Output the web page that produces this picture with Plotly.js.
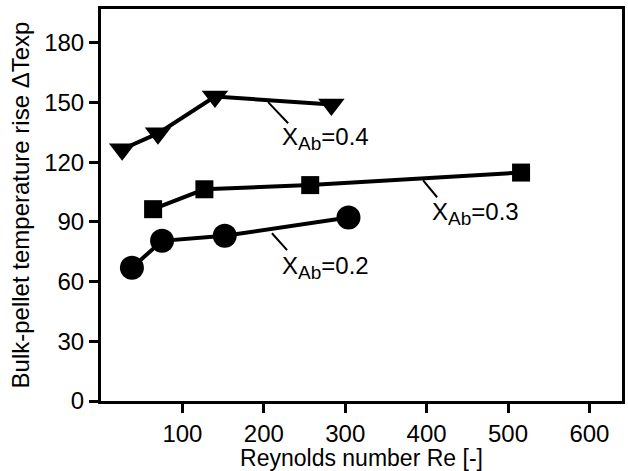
<!DOCTYPE html>
<html>
<head>
<meta charset="utf-8">
<script src="https://cdn.plot.ly/plotly-3.0.1.min.js"></script>
<style>html,body{margin:0;padding:0;background:#fff;}#chart{width:628px;height:471px;}</style>
</head>
<body>
<div id="chart"></div>
<script>
// Data
const re02 = [38, 75, 152, 304];
const dt02 = [67, 80.5, 83, 92.2];
const re03 = [64, 127, 257, 516];
const dt03 = [96.4, 106.4, 108.5, 114.8];
const re04 = [26, 70, 140, 283];
const dt04 = [126.5, 134.5, 153, 149];

const xTicks = [100, 200, 300, 400, 500, 600];
const yTicks = [0, 30, 60, 90, 120, 150, 180];

const labelText = [
  'X<sub><span style="font-size:19px">Ab</span></sub>=0.2',
  'X<sub><span style="font-size:19px">Ab</span></sub>=0.3',
  'X<sub><span style="font-size:19px">Ab</span></sub>=0.4'
];
const labelX = [220, 404, 220];
const labelY = [67, 94, 132];
// leader lines: [x0, y0, x1, y1]
const leaders = [
  [210, 84.3, 228.6, 75.8],
  [395.7, 110.9, 412.9, 102.4],
  [205.3, 150.2, 229.9, 139.6]
];

const FONT = 'Liberation Sans, Arial, sans-serif';

const traces = [
  {x: re02, y: dt02, mode: 'lines+markers', line: {color: '#000', width: 4},
   marker: {symbol: 'circle', size: 24, color: '#000'}},
  {x: re03, y: dt03, mode: 'lines+markers', line: {color: '#000', width: 4},
   marker: {symbol: 'square', size: 18, color: '#000'}},
  {x: re04, y: dt04, mode: 'lines+markers', line: {color: '#000', width: 4},
   marker: {symbol: 'triangle-down', size: 23, color: '#000'}}
];

const annotations = labelText.map((t, i) => ({
  x: labelX[i], y: labelY[i], xref: 'x', yref: 'y', text: t, showarrow: false,
  xanchor: 'left', yanchor: 'middle', font: {family: FONT, size: 24, color: '#000'}
}));

const shapes = leaders.map(l => ({
  type: 'line', xref: 'x', yref: 'y', x0: l[0], y0: l[1], x1: l[2], y1: l[3],
  line: {color: '#000', width: 2}
}));

const layout = {
  width: 628, height: 471,
  margin: {l: 101, r: 6, t: 9, b: 70},
  paper_bgcolor: '#fff', plot_bgcolor: '#fff',
  showlegend: false,
  font: {family: FONT, size: 24, color: '#000'},
  xaxis: {
    range: [0, 640], tickvals: xTicks, ticktext: xTicks.map(String),
    showgrid: false, zeroline: false, showline: true, mirror: true,
    linecolor: '#000', linewidth: 3, ticks: 'outside', ticklen: 9, tickwidth: 3, tickcolor: '#000',
    tickfont: {family: FONT, size: 24, color: '#000'},
    title: {text: 'Reynolds number Re [-]', font: {family: FONT, size: 23, color: '#000'}, standoff: 2}
  },
  yaxis: {
    range: [0, 197], tickvals: yTicks, ticktext: yTicks.map(String),
    showgrid: false, zeroline: false, showline: true, mirror: true,
    linecolor: '#000', linewidth: 3, ticks: 'outside', ticklen: 9, tickwidth: 3, tickcolor: '#000',
    tickfont: {family: FONT, size: 24, color: '#000'},
    title: {text: 'Bulk-pellet temperature rise \u0394Texp', font: {family: FONT, size: 24, color: '#000'}, standoff: 8}
  },
  annotations: annotations,
  shapes: shapes
};

Plotly.newPlot('chart', traces, layout, {staticPlot: true, displayModeBar: false});
</script>
</body>
</html>
